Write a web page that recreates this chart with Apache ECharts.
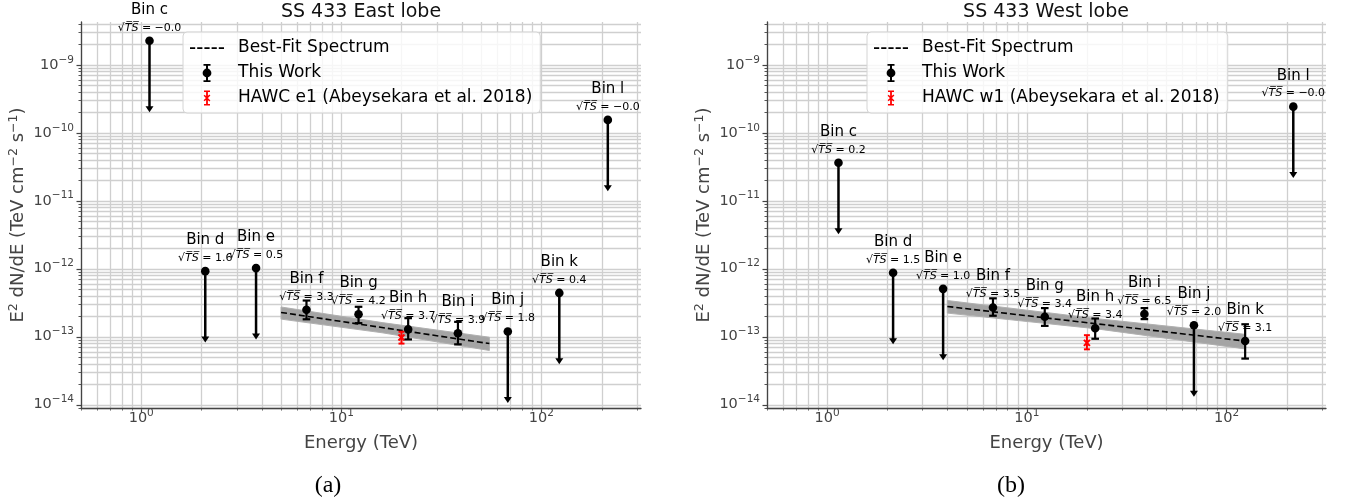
<!DOCTYPE html>
<html><head><meta charset="utf-8">
<script src="https://cdn.jsdelivr.net/npm/echarts@6/dist/echarts.min.js"></script>
<style>html,body{margin:0;padding:0;background:#fff}#c{width:1356px;height:503px}</style>
</head><body><div id="c"></div>
<script>
// ---------------- data ----------------
const binNames = ['c','d','e','f','g','h','i','j','k','l'];

const eastEnergy   = [1.10, 2.09, 3.75, 6.7, 12.2, 21.6, 38.3, 68, 123, 215];
const eastFlux     = [2.27e-9, 9.2e-13, 1.02e-12, 2.48e-13, 2.14e-13, 1.28e-13, 1.12e-13, 1.19e-13, 4.4e-13, 1.55e-10];
const eastErrLow   = [null, null, null, 1.8e-13, 1.58e-13, 9.1e-14, 7.7e-14, null, null, null];
const eastErrHigh  = [null, null, null, 3.4e-13, 2.75e-13, 1.87e-13, 1.65e-13, null, null, null];
const eastUpperLim = [1, 1, 1, 0, 0, 0, 0, 1, 1, 1];
const eastSqrtTS   = ['\u22120.0', '1.6', '0.5', '3.3', '4.2', '3.7', '3.9', '1.8', '0.4', '\u22120.0'];
const eastFitEnergy = [5, 55];
const eastFitFlux   = [2.27e-13, 7.9e-14];
const eastBandEnergy = [5, 16, 55];
const eastBandLow    = [1.81e-13, 1.14e-13, 6.25e-14];
const eastBandHigh   = [2.73e-13, 1.61e-13, 9.8e-14];
const eastHawc = [20, 9.7e-14, 7.9e-14, 1.18e-13]; // energy, flux, low, high

const westEnergy   = [1.14, 2.14, 3.81, 6.77, 12.3, 22, 38.8, 68.7, 124, 216];
const westFlux     = [3.63e-11, 8.7e-13, 5.05e-13, 2.69e-13, 1.96e-13, 1.33e-13, 2.15e-13, 1.47e-13, 8.6e-14, 2.43e-10];
const westErrLow   = [null, null, null, 2.03e-13, 1.44e-13, 9.3e-14, 1.81e-13, null, 4.75e-14, null];
const westErrHigh  = [null, null, null, 3.66e-13, 2.63e-13, 1.85e-13, 2.63e-13, null, 1.52e-13, null];
const westUpperLim = [1, 1, 1, 0, 0, 0, 0, 1, 0, 1];
const westSqrtTS   = ['0.2', '1.5', '1.0', '3.5', '3.4', '3.4', '6.5', '2.0', '3.1', '\u22120.0'];
const westFitEnergy = [4, 124];
const westFitFlux   = [2.78e-13, 8.6e-14];
const westBandEnergy = [4, 22, 124];
const westBandLow    = [2.22e-13, 1.31e-13, 6.6e-14];
const westBandHigh   = [3.4e-13, 1.85e-13, 1.08e-13];
const westHawc = [20, 8.1e-14, 6.5e-14, 1.05e-13];

const titles = ['SS 433 East lobe', 'SS 433 West lobe'];
const captions = ['(a)', '(b)'];
const hawcNames = ['HAWC e1 (Abeysekara et al. 2018)', 'HAWC w1 (Abeysekara et al. 2018)'];
const fitName = 'Best-Fit Spectrum';
const workName = 'This Work';

const xRange = [0.5, 315];
const yRange = [8.9e-15, 4.28e-9];
const gridMultipliers = [1, 2, 3, 4, 5, 6, 7, 8, 9];
const xGridDecades = [0.1, 1, 10, 100];
const yGridDecades = [1e-15, 1e-14, 1e-13, 1e-12, 1e-11, 1e-10, 1e-9];

// ---------------- helpers ----------------
const FONT = '"DejaVu Sans", sans-serif';
const GRID_COLOR = '#cfcfcf';
const AXIS_COLOR = '#444';

function isPow10(v) { const l = Math.log10(v); return Math.abs(l - Math.round(l)) < 1e-6; }
function expStr(v) { const e = Math.round(Math.log10(v)); return (e < 0 ? '\u2212' : '') + Math.abs(e); }
function tickFormatter(v) { return isPow10(v) ? '{b|10}{s|' + expStr(v) + '}' : ''; }
const tickRich = {
  b: { fontSize: 14.5, lineHeight: 16, color: AXIS_COLOR, fontFamily: FONT },
  s: { fontSize: 10.5, lineHeight: 10, padding: [0, 0, 10, 0], color: AXIS_COLOR, fontFamily: FONT }
};

function gridValues(decades, lo, hi) {
  const out = [];
  decades.forEach(d => gridMultipliers.forEach(m => { const v = d * m; if (v >= lo * 0.9999 && v <= hi * 1.0001) out.push(v); }));
  return out;
}

function gridRender(params, api) {
  const cs = params.coordSys;
  const top = cs.y, bottom = cs.y + cs.height, left = cs.x, right = cs.x + cs.width;
  const ch = [];
  gridValues(xGridDecades, xRange[0], xRange[1]).forEach(v => {
    const x = Math.round(api.coord([v, yRange[0]])[0]) + 0.5;
    const major = isPow10(v);
    ch.push({ type: 'line', shape: { x1: x, y1: top, x2: x, y2: bottom }, style: { stroke: GRID_COLOR, lineWidth: 1.3 } });
    ch.push({ type: 'line', shape: { x1: x, y1: bottom, x2: x, y2: bottom + (major ? 4.5 : 2.5) }, style: { stroke: AXIS_COLOR, lineWidth: major ? 1.2 : 0.9 } });
  });
  gridValues(yGridDecades, yRange[0], yRange[1]).forEach(v => {
    const y = Math.round(api.coord([xRange[0], v])[1]) + 0.5;
    const major = isPow10(v);
    ch.push({ type: 'line', shape: { x1: left, y1: y, x2: right, y2: y }, style: { stroke: GRID_COLOR, lineWidth: 1.3 } });
    ch.push({ type: 'line', shape: { x1: left - (major ? 4.5 : 2.5), y1: y, x2: left, y2: y }, style: { stroke: AXIS_COLOR, lineWidth: major ? 1.2 : 0.9 } });
  });
  return { type: 'group', children: ch };
}

function bandRender(energy, low, high) {
  return function (params, api) {
    const pts = [];
    for (let i = 0; i < energy.length; i++) pts.push(api.coord([energy[i], high[i]]));
    for (let i = energy.length - 1; i >= 0; i--) pts.push(api.coord([energy[i], low[i]]));
    return { type: 'polygon', shape: { points: pts }, style: { fill: '#a4a4a4', stroke: '#b0b0b0', lineWidth: 1 } };
  };
}

function pointRender(tsLabels) {
  return function (params, api) {
    const i = params.dataIndex;
    const E = api.value(0), F = api.value(1), ul = api.value(4);
    const p = api.coord([E, F]);
    const x = p[0], y = p[1];
    const ch = [];
    const st = { stroke: '#000', lineWidth: 2.5 };
    if (ul) {
      const yb = api.coord([E, F * 0.1])[1];
      ch.push({ type: 'line', shape: { x1: x, y1: y, x2: x, y2: yb - 1 }, style: st });
      ch.push({ type: 'polygon', shape: { points: [[x - 4, yb - 2.5], [x + 4, yb - 2.5], [x, yb + 3.5]] }, style: { fill: '#000' } });
    } else {
      const yl = api.coord([E, api.value(2)])[1], yh = api.coord([E, api.value(3)])[1];
      const se = { stroke: '#000', lineWidth: 2.2 };
      ch.push({ type: 'line', shape: { x1: x, y1: yh, x2: x, y2: yl }, style: se });
      ch.push({ type: 'line', shape: { x1: x - 3.8, y1: yh, x2: x + 3.8, y2: yh }, style: se });
      ch.push({ type: 'line', shape: { x1: x - 3.8, y1: yl, x2: x + 3.8, y2: yl }, style: se });
    }
    ch.push({ type: 'circle', shape: { cx: x, cy: y, r: 4.3 }, style: { fill: '#000' } });
    ch.push({ type: 'text', style: { text: 'Bin ' + binNames[i], x: x, y: y - 31, align: 'center', verticalAlign: 'middle', textAlign: 'center', textVerticalAlign: 'middle', fontSize: 15, fontFamily: FONT, fill: '#000' } });
    ch.push({ type: 'text', style: {
      text: '{r|\u221A}{t|T\u0305S\u0305}{n| = ' + tsLabels[i] + '}',
      x: x, y: y - 13, align: 'center', verticalAlign: 'middle', textAlign: 'center', textVerticalAlign: 'middle',
      fontSize: 11, fontFamily: FONT, fill: '#000',
      rich: {
        r: { fontSize: 11, fontFamily: FONT, fill: '#000', color: '#000' },
        t: { fontSize: 11, fontFamily: FONT, fontStyle: 'italic', fill: '#000', color: '#000' },
        n: { fontSize: 11, fontFamily: FONT, fill: '#000', color: '#000' }
      } } });
    return { type: 'group', children: ch };
  };
}

function hawcRender(params, api) {
  const E = api.value(0), F = api.value(1);
  const p = api.coord([E, F]);
  const x = p[0], y = p[1];
  const yl = api.coord([E, api.value(2)])[1], yh = api.coord([E, api.value(3)])[1];
  const st = { stroke: '#ff0000', lineWidth: 2 };
  return { type: 'group', children: [
    { type: 'line', shape: { x1: x, y1: yh, x2: x, y2: yl }, style: st },
    { type: 'line', shape: { x1: x - 3, y1: yh, x2: x + 3, y2: yh }, style: st },
    { type: 'line', shape: { x1: x - 3, y1: yl, x2: x + 3, y2: yl }, style: st },
    { type: 'line', shape: { x1: x - 3, y1: y - 3, x2: x + 3, y2: y + 3 }, style: st },
    { type: 'line', shape: { x1: x - 3, y1: y + 3, x2: x + 3, y2: y - 3 }, style: st }
  ] };
}

function pointData(E, F, lo, hi, ul) {
  return E.map((e, i) => [e, F[i], lo[i] || 0, hi[i] || 0, ul[i]]);
}

const ICON_DASH = 'path://M0,0M34,20M0,9.2h5.2v1.7h-5.2zM7.2,9.2h5.2v1.7h-5.2zM14.4,9.2h5.2v1.7h-5.2zM21.6,9.2h5.2v1.7h-5.2zM28.8,9.2h5.2v1.7h-5.2z';
const ICON_ERR = 'path://M0,0M34,20M16,1.5h2v5h-2zM16,13.5h2v5h-2zM13.5,1h7v1.8h-7zM13.5,17.2h7v1.8h-7zM12.6,10a4.4,4.4 0 1,1 8.8,0a4.4,4.4 0 1,1 -8.8,0z';
const ICON_HAWC = 'path://M0,0M34,20M16.1,3h1.8v14h-1.8zM14,2.6h6v1.5h-6zM14,15.9h6v1.5h-6zM13.6,7.8l1.1,-1.1l5.7,5.7l-1.1,1.1zM13.6,12.2l5.7,-5.7l1.1,1.1l-5.7,5.7z';

const grids = [
  { left: 81, top: 22, width: 560, height: 386 },
  { left: 767, top: 22, width: 559, height: 386 }
];
const titleCenters = [361, 1046];
const captionCenters = [328, 1011];
const legendPos = [{ left: 183, top: 32 }, { left: 867, top: 32 }];

function makeXAxis(g) {
  return {
    type: 'log', gridIndex: g, min: xRange[0], max: xRange[1], logBase: 10, z: 10,
    axisLine: { show: true, onZero: false, lineStyle: { color: AXIS_COLOR, width: 1.3 } },
    axisTick: { show: false }, splitLine: { show: false }, minorTick: { show: false }, minorSplitLine: { show: false },
    axisLabel: { formatter: tickFormatter, rich: tickRich, margin: 2, color: AXIS_COLOR, showMinLabel: true, showMaxLabel: true, hideOverlap: false },
    name: 'Energy (TeV)', nameLocation: 'middle', nameGap: 22,
    nameTextStyle: { fontSize: 18, color: AXIS_COLOR, fontFamily: FONT, lineHeight: 20 }
  };
}
function makeYAxis(g) {
  return {
    type: 'log', gridIndex: g, min: yRange[0], max: yRange[1], logBase: 10, z: 10,
    axisLine: { show: true, onZero: false, lineStyle: { color: AXIS_COLOR, width: 1.3 } },
    axisTick: { show: false }, splitLine: { show: false }, minorTick: { show: false }, minorSplitLine: { show: false },
    axisLabel: { formatter: tickFormatter, rich: tickRich, margin: 7, color: AXIS_COLOR, showMinLabel: true, showMaxLabel: true, hideOverlap: false },
    name: '{m|E}{s|2}{m| dN/dE (TeV cm}{s|\u22122}{m| s}{s|\u22121}{m|)}',
    nameLocation: 'middle', nameGap: 52,
    nameTextStyle: {
      fontSize: 18, color: AXIS_COLOR, fontFamily: FONT,
      rich: {
        m: { fontSize: 18, lineHeight: 20, color: AXIS_COLOR, fontFamily: FONT },
        s: { fontSize: 12.5, lineHeight: 12, padding: [0, 0, 9, 0], color: AXIS_COLOR, fontFamily: FONT }
      }
    }
  };
}

const panels = [
  { E: eastEnergy, F: eastFlux, lo: eastErrLow, hi: eastErrHigh, ul: eastUpperLim, ts: eastSqrtTS,
    fitE: eastFitEnergy, fitF: eastFitFlux, bandE: eastBandEnergy, bandLo: eastBandLow, bandHi: eastBandHigh, hawc: eastHawc },
  { E: westEnergy, F: westFlux, lo: westErrLow, hi: westErrHigh, ul: westUpperLim, ts: westSqrtTS,
    fitE: westFitEnergy, fitF: westFitFlux, bandE: westBandEnergy, bandLo: westBandLow, bandHi: westBandHigh, hawc: westHawc }
];

const series = [];
panels.forEach((p, g) => {
  series.push({ type: 'custom', name: 'grid' + g, xAxisIndex: g, yAxisIndex: g, z: 0, silent: true,
    renderItem: gridRender, data: [[1, 1e-12]] });
  series.push({ type: 'custom', name: 'band' + g, xAxisIndex: g, yAxisIndex: g, z: 1, silent: true,
    renderItem: bandRender(p.bandE, p.bandLo, p.bandHi), data: [[p.bandE[0], p.bandLo[0]]] });
  series.push({ type: 'line', name: fitName, xAxisIndex: g, yAxisIndex: g, z: 2, symbol: 'none', silent: true,
    color: '#000', lineStyle: { color: '#000', width: 1.6, type: [6, 3] },
    data: p.fitE.map((e, i) => [e, p.fitF[i]]) });
  series.push({ type: 'custom', name: hawcNames[g], xAxisIndex: g, yAxisIndex: g, z: 3, silent: true,
    color: '#ff0000', itemStyle: { color: '#ff0000' },
    renderItem: hawcRender, data: [p.hawc] });
  series.push({ type: 'custom', name: workName, xAxisIndex: g, yAxisIndex: g, z: 4, silent: true,
    color: '#000', itemStyle: { color: '#000' },
    renderItem: pointRender(p.ts), data: pointData(p.E, p.F, p.lo, p.hi, p.ul) });
});

const option = {
  animation: false,
  backgroundColor: '#fff',
  textStyle: { fontFamily: FONT },
  title: titles.map((t, g) => ({ text: t, left: titleCenters[g], top: 3, textAlign: 'center', padding: 0,
    textStyle: { fontSize: 19, fontWeight: 'normal', color: '#111', fontFamily: FONT } })),
  grid: grids.map(r => Object.assign({ containLabel: false, outerBoundsMode: 'none' }, r)),
  xAxis: [makeXAxis(0), makeXAxis(1)],
  yAxis: [makeYAxis(0), makeYAxis(1)],
  legend: [0, 1].map(g => ({
    left: legendPos[g].left, top: legendPos[g].top, orient: 'vertical', padding: [6, 8, 5, 7],
    itemGap: 5, itemWidth: 34, itemHeight: 20, selectedMode: false, symbolKeepAspect: true,
    backgroundColor: 'rgba(255,255,255,0.8)', borderColor: '#d4d4d4', borderWidth: 1, borderRadius: 4,
    textStyle: { fontSize: 17, color: '#000', fontFamily: FONT, padding: [0, 0, 0, 9], lineHeight: 20 },
    data: [
      { name: fitName, icon: ICON_DASH, itemStyle: { color: '#000', borderWidth: 0 } },
      { name: workName, icon: ICON_ERR, itemStyle: { color: '#000', borderWidth: 0 } },
      { name: hawcNames[g], icon: ICON_HAWC, itemStyle: { color: '#ff0000', borderWidth: 0 } }
    ]
  })),
  graphic: captions.map((c, g) => ({ type: 'text', x: captionCenters[g], y: 486,
    style: { text: c, fontSize: 24, fontFamily: '"Liberation Serif", serif', fill: '#000',
      align: 'center', verticalAlign: 'middle', textAlign: 'center', textVerticalAlign: 'middle' } })),
  series: series
};

const chart = echarts.init(document.getElementById('c'), null, { renderer: 'canvas' });
chart.setOption(option);
</script>
</body></html>
